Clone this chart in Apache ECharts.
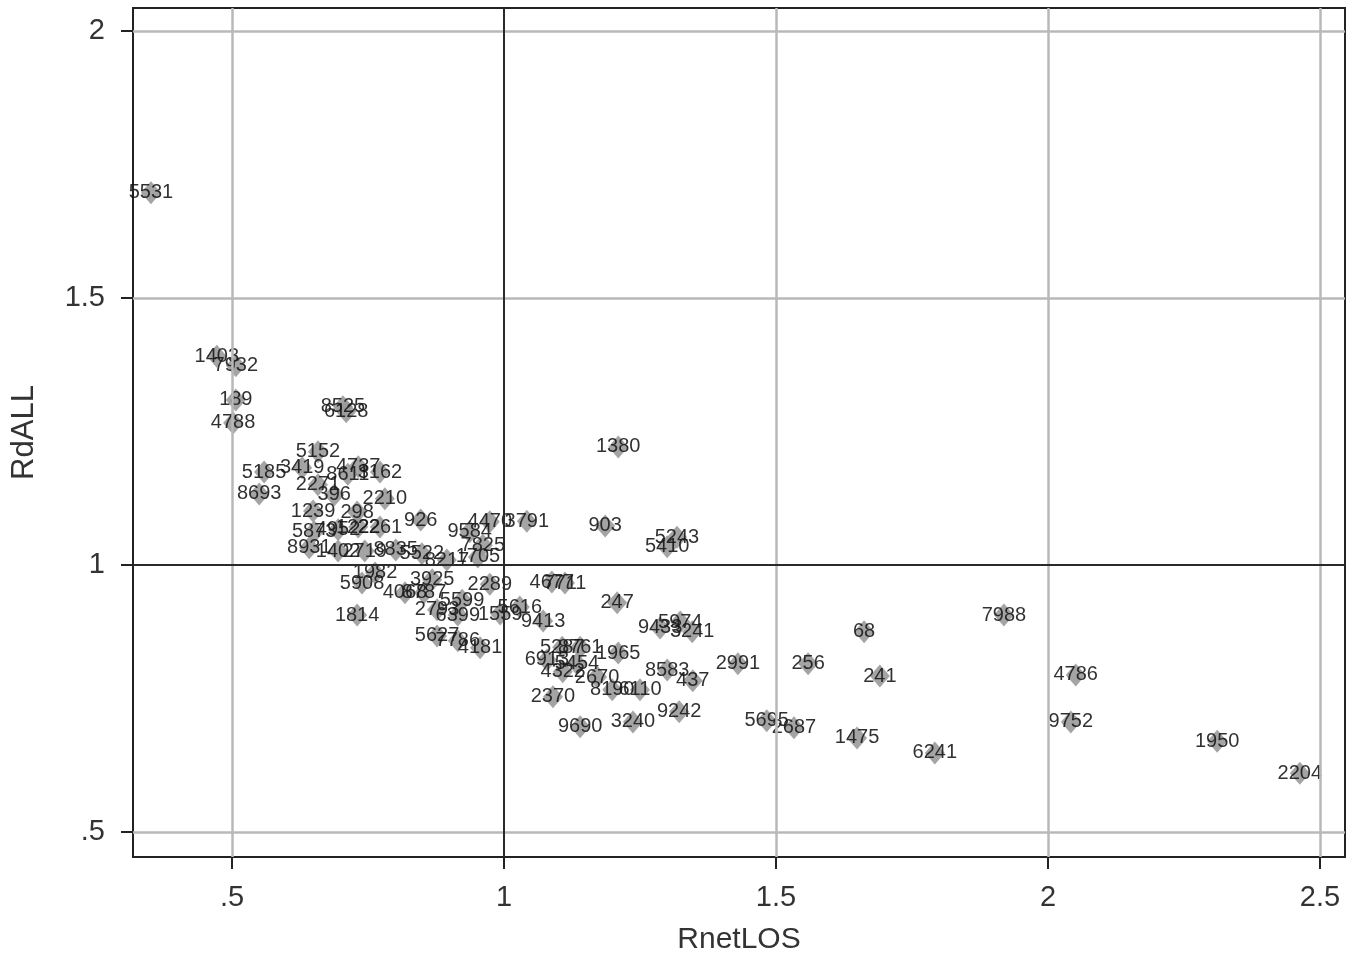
<!DOCTYPE html>
<html>
<head>
<meta charset="utf-8">
<script src="https://cdn.jsdelivr.net/npm/echarts@6/dist/echarts.min.js"></script>
<style>
html,body{margin:0;padding:0;background:#fff;}
#chart{width:1353px;height:961px;}
</style>
</head>
<body>
<div id="chart"></div>
<script>
// ---- data ----
const ids = ['5531','1403','7932','189','4788','8525','6128','5152','5185','3419','8611','4737','3162','2271','8693','396','2210','1239','298','926','5873','4952','1222','2261','8931','1402','2719','8835','5522','9584','4470','3791','7825','1705','8217','1982','5908','4068','3925','8787','5599','2289','2793','6399','1559','5616','9413','1814','4677','7711','247','5627','7786','4181','903','1380','5243','5410','9433','5974','3241','5287','8761','1965','6913','5454','4322','2670','8190','6110','8583','437','2370','9690','3240','9242','2991','256','241','68','7988','5695','2687','1475','6241','4786','9752','1950','2204'];
const rnetLOS = [0.351,0.472,0.507,0.507,0.502,0.704,0.710,0.658,0.559,0.629,0.713,0.732,0.772,0.658,0.550,0.688,0.781,0.649,0.730,0.847,0.651,0.695,0.732,0.772,0.642,0.695,0.744,0.801,0.849,0.937,0.974,1.042,0.961,0.952,0.895,0.763,0.739,0.818,0.868,0.853,0.923,0.974,0.877,0.915,0.993,1.029,1.072,0.730,1.088,1.112,1.208,0.877,0.915,0.956,1.186,1.210,1.318,1.300,1.287,1.324,1.346,1.107,1.140,1.210,1.079,1.134,1.108,1.171,1.199,1.250,1.300,1.347,1.090,1.140,1.237,1.322,1.430,1.559,1.691,1.662,1.919,1.483,1.533,1.649,1.792,2.051,2.042,2.311,2.463];
const rdALL = [1.697,1.391,1.373,1.309,1.266,1.296,1.287,1.212,1.174,1.182,1.170,1.184,1.174,1.150,1.133,1.131,1.124,1.101,1.099,1.084,1.062,1.066,1.071,1.071,1.032,1.026,1.026,1.028,1.021,1.062,1.081,1.082,1.037,1.015,1.009,0.985,0.966,0.948,0.972,0.948,0.934,0.964,0.916,0.906,0.908,0.921,0.895,0.906,0.968,0.966,0.929,0.867,0.858,0.845,1.073,1.221,1.052,1.034,0.882,0.893,0.875,0.846,0.846,0.835,0.822,0.815,0.800,0.790,0.766,0.766,0.803,0.783,0.753,0.697,0.706,0.725,0.815,0.815,0.792,0.875,0.906,0.708,0.695,0.676,0.648,0.794,0.706,0.670,0.610];
const xTicks = [0.5,1,1.5,2,2.5];
const yTicks = [0.5,1,1.5,2];
const xGrid = [0.5,1.5,2,2.5];
const yGrid = [0.5,1.5,2];
const xRef = 1, yRef = 1;

const fmt = v => (v === 0.5 ? '.5' : String(v));
const pts = ids.map((id,i)=>({value:[rnetLOS[i], rdALL[i]], name:id}));

const chart = echarts.init(document.getElementById('chart'));
const textCol = '#333';
const ff = 'Liberation Sans, Arial, sans-serif';
chart.setOption({
  backgroundColor:'#fff',
  animation:false,
  grid:{left:133,top:8,width:1212,height:849,outerBoundsMode:'none',containLabel:false,
    show:true,borderColor:'#222',borderWidth:2,backgroundColor:'transparent'},
  xAxis:{
    type:'value', min:0.318, max:2.546,
    name:'RnetLOS', nameLocation:'middle', nameGap:68,
    nameTextStyle:{fontFamily:ff,fontSize:30,color:textCol},
    axisLine:{show:true,lineStyle:{color:'#222',width:2}},
    axisTick:{show:true,inside:false,length:12,lineStyle:{color:'#222',width:2},customValues:xTicks},
    axisLabel:{fontFamily:ff,fontSize:29,color:textCol,margin:26,customValues:xTicks,formatter:fmt},
    splitLine:{show:false}
  },
  yAxis:{
    type:'value', min:0.453, max:2.043,
    name:'RdALL', nameLocation:'middle', nameGap:93, nameRotate:90,
    nameTextStyle:{fontFamily:ff,fontSize:31,color:textCol},
    axisLine:{show:true,lineStyle:{color:'#222',width:2}},
    axisTick:{show:true,inside:false,length:12,lineStyle:{color:'#222',width:2},customValues:yTicks},
    axisLabel:{fontFamily:ff,fontSize:29,color:textCol,margin:28,customValues:yTicks,formatter:fmt},
    splitLine:{show:false}
  },
  series:[
    {
      type:'scatter', data:[], silent:true, z:1,
      markLine:{
        silent:true, symbol:'none', animation:false,
        label:{show:false},
        lineStyle:{color:'#b8b8b8',width:2.5,type:'solid'},
        data: xGrid.map(v=>({xAxis:v})).concat(yGrid.map(v=>({yAxis:v})))
      }
    },
    {
      type:'scatter', data:[], silent:true, z:2,
      markLine:{
        silent:true, symbol:'none', animation:false,
        label:{show:false},
        lineStyle:{color:'#2a2a2a',width:2,type:'solid'},
        data:[{xAxis:xRef},{yAxis:yRef}]
      }
    },
    {
      type:'scatter', z:3,
      symbol:'diamond', symbolSize:[20,23],
      itemStyle:{color:'#9a9a9a',opacity:0.9},
      data:pts,
      label:{show:true,position:'inside',formatter:p=>p.name,
        fontFamily:ff,fontSize:20,color:'#1a1a1a'},
      labelLayout:{hideOverlap:false}
    }
  ]
});
</script>
</body>
</html>
